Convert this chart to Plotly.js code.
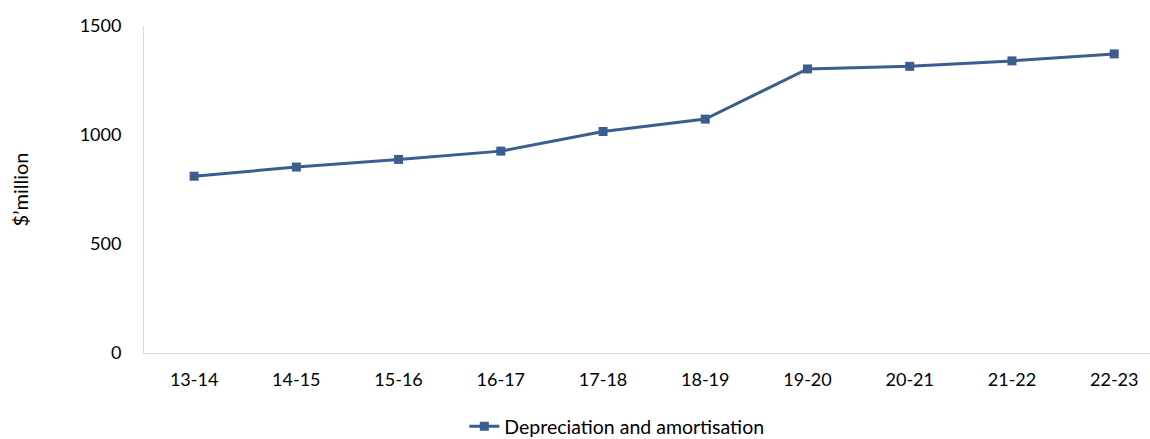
<!DOCTYPE html>
<html>
<head>
<meta charset="utf-8">
<script src="https://cdn.plot.ly/plotly-3.0.1.min.js"></script>
<style>
  html, body { margin: 0; padding: 0; background: #ffffff; }
  #chart { width: 1150px; height: 439px; }
</style>
</head>
<body>
<div id="chart"></div>
<script>
// Financial years
const years = ['13-14', '14-15', '15-16', '16-17', '17-18', '18-19', '19-20', '20-21', '21-22', '22-23'];
// Depreciation and amortisation, $ million
const depreciation = [811, 853, 888, 926, 1016, 1073, 1303, 1315, 1340, 1372];
const yTicks = [0, 500, 1000, 1500];

const lineColor = '#3b5e8f';
const family = 'Lato, "Open Sans", sans-serif';
const font = { family: family, size: 18, color: '#000000' };

const trace = {
  type: 'scatter',
  mode: 'lines+markers',
  name: 'Depreciation and amortisation',
  x: years,
  y: depreciation,
  line: { color: lineColor, width: 3 },
  marker: { symbol: 'square', size: 9, color: lineColor }
};

const layout = {
  width: 1150,
  height: 439,
  paper_bgcolor: '#ffffff',
  plot_bgcolor: '#ffffff',
  font: font,
  margin: { l: 144, r: 0, t: 26, b: 86, pad: 0, autoexpand: false },
  showlegend: true,
  legend: {
    orientation: 'h',
    x: 0.47,
    xanchor: 'center',
    y: -0.225,
    yanchor: 'middle',
    font: { family: family, size: 19.5, color: '#000000' },
    bgcolor: 'rgba(0,0,0,0)'
  },
  xaxis: {
    type: 'category',
    range: [-0.49, 9.35],
    showgrid: false,
    zeroline: false,
    showline: true,
    linecolor: '#d9d9d9',
    linewidth: 1,
    ticks: '',
    ticklabelstandoff: 10,
    tickfont: font,
    fixedrange: true
  },
  yaxis: {
    range: [0, 1500],
    tickvals: yTicks,
    ticktext: yTicks.map(String),
    showgrid: false,
    zeroline: false,
    showline: true,
    linecolor: '#d9d9d9',
    linewidth: 1,
    ticks: '',
    ticklabelstandoff: 18,
    tickfont: font,
    title: { text: '$’million', font: { family: family, size: 20, color: '#000000' }, standoff: 45 },
    fixedrange: true
  }
};

Plotly.newPlot('chart', [trace], layout, { displayModeBar: false, staticPlot: true });
</script>
</body>
</html>
